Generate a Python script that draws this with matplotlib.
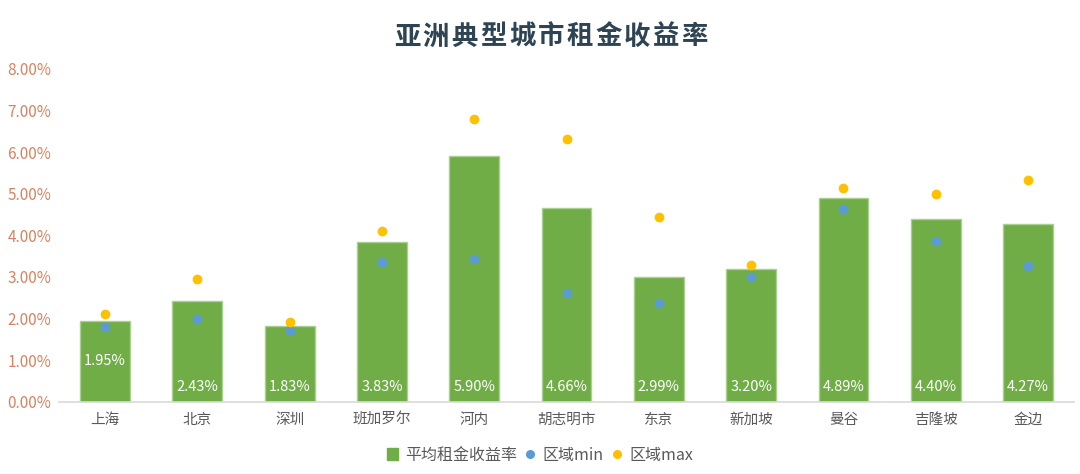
import matplotlib
matplotlib.use('Agg')
import matplotlib.pyplot as plt
from matplotlib.lines import Line2D
from matplotlib.patches import Patch
from matplotlib.ticker import FuncFormatter

plt.rcParams['font.family'] = ['Noto Sans CJK SC', 'DejaVu Sans']

# 数据
title = '亚洲典型城市租金收益率'
cities = ['上海', '北京', '深圳', '班加罗尔', '河内', '胡志明市', '东京', '新加坡', '曼谷', '吉隆坡', '金边']
avg_yield = [1.95, 2.43, 1.83, 3.83, 5.90, 4.66, 2.99, 3.20, 4.89, 4.40, 4.27]
min_yield = [1.80, 2.00, 1.72, 3.36, 3.42, 2.61, 2.38, 3.01, 4.64, 3.86, 3.26]
max_yield = [2.10, 2.94, 1.92, 4.11, 6.79, 6.31, 4.43, 3.29, 5.13, 4.99, 5.32]

green = '#70AD47'
blue = '#5B9BD5'
orange = '#FFC000'
gray = '#595959'

fig = plt.figure(figsize=(10.8, 4.74), dpi=100)
ax = fig.add_axes([0.0546, 0.1525, 0.94, 0.702])

x = range(len(cities))
ax.bar(x, avg_yield, width=0.54, color=green, edgecolor='#A9D08E', linewidth=1, zorder=2)
ax.scatter(x, min_yield, s=36, color=blue, zorder=3)
ax.scatter(x, max_yield, s=36, color=orange, zorder=3)

# 数据标签
for i, v in enumerate(avg_yield):
    y = v / 2 if i == 0 else 0.36
    ax.text(i, y, f'{v:.2f}%', ha='center', va='center', color='white', fontsize=10.5)

ax.set_xlim(-0.5, len(cities) - 0.5)
ax.set_ylim(0, 8)
ax.set_yticks(range(0, 9))
ax.yaxis.set_major_formatter(FuncFormatter(lambda v, p: f'{v:.2f}%'))
ax.set_xticks(list(x))
ax.set_xticklabels(cities)
ax.tick_params(axis='y', colors='#D9825F', labelsize=11, length=0, pad=5.5)
ax.tick_params(axis='x', colors=gray, labelsize=10.5, length=0, pad=8)
for s in ['top', 'right', 'left']:
    ax.spines[s].set_visible(False)
ax.spines['bottom'].set_color('#D9D9D9')
ax.spines['bottom'].set_linewidth(1.2)

# 标题（字间距加宽）
pitch = 28.8 / 1080
x0 = 551 / 1080 - pitch * (len(title) - 1) / 2
for i, ch in enumerate(title):
    fig.text(x0 + i * pitch, 0.922, ch, ha='center', va='center',
             fontsize=19, fontweight='bold', color='#2E4453')

handles = [
    Patch(facecolor=green, edgecolor=green),
    Line2D([], [], marker='o', linestyle='', color=blue, markersize=5.5),
    Line2D([], [], marker='o', linestyle='', color=orange, markersize=5.5),
]
labels = ['平均租金收益率', '区域min', '区域max']
fig.legend(handles, labels, loc='center', bbox_to_anchor=(0.5, 0.04), ncol=3,
           frameon=False, fontsize=11.5, handlelength=0.7, handletextpad=0.4,
           columnspacing=0.5, labelcolor=gray)

fig.savefig('out.png', dpi=100)
